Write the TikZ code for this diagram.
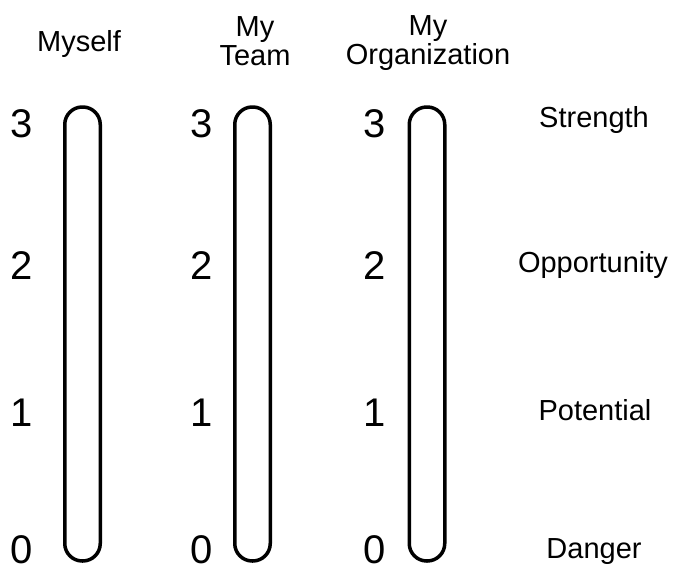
\documentclass[tikz,border=0pt]{standalone}
\usepackage{fontspec}
\setmainfont{Liberation Sans}

\begin{document}
\begin{tikzpicture}[x=1pt,y=-1pt,
	bar/.style={draw,line width=3.5pt,rounded corners=17.5pt,minimum width=35.5pt,minimum height=454pt,inner sep=0pt},
	digit/.style={font=\fontsize{40}{40}\selectfont,anchor=base,inner sep=0pt},
	heading/.style={font=\fontsize{29}{29}\selectfont,anchor=base,inner sep=0pt,align=center},
	level/.style={font=\fontsize{29}{29}\selectfont,anchor=base,inner sep=0pt}]
	\useasboundingbox (0,0) rectangle (675,570);
	% headings
	\node[heading] (head-myself) at (79,51) {Myself};
	\node[heading] (head-team) at (255,65) {My\\Team};
	\node[heading] (head-org) at (428,64) {My\\Organization};
	% bars and scores
	\foreach \col/\px/\dx in {myself/82.5/22, team/252.5/202, org/427/375} {
		\node[bar] (bar-\col) at (\px,334) {};
		\foreach \v/\y in {3/137,2/279,1/426,0/563}
			\node[digit] (\col-\v) at (\dx,\y) {\v};
	}
	% levels
	\node[level] (strength) at (594,127) {Strength};
	\node[level] (opportunity) at (593,272) {Opportunity};
	\node[level] (potential) at (595,420) {Potential};
	\node[level] (danger) at (594,558) {Danger};
\end{tikzpicture}
\end{document}
